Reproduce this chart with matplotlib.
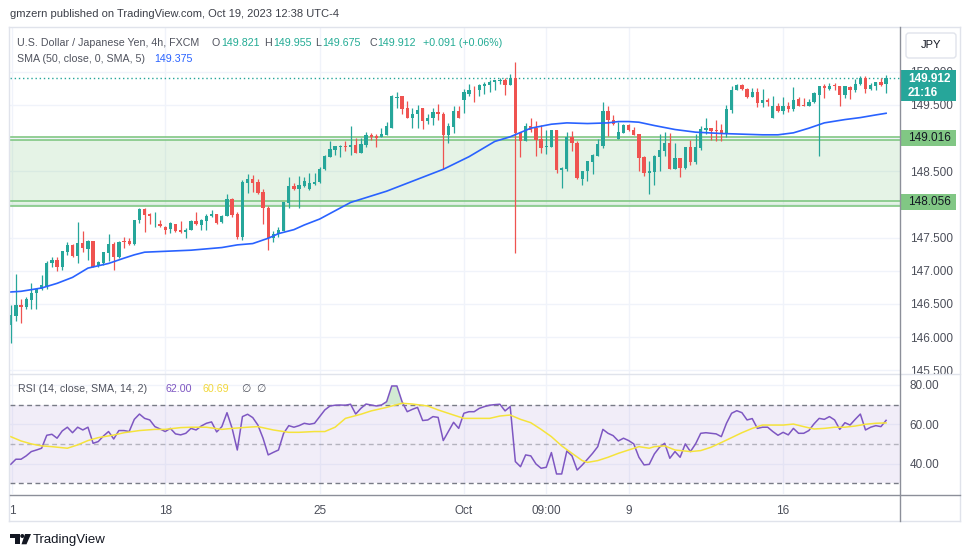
import numpy as np
import matplotlib
matplotlib.use('Agg')
import matplotlib.pyplot as plt
from matplotlib.patches import Rectangle, FancyBboxPatch, Polygon, Circle
from matplotlib.lines import Line2D
from matplotlib.transforms import Affine2D
from matplotlib.ticker import FormatStrFormatter

plt.rcParams['font.family'] = ['Liberation Sans', 'DejaVu Sans']

# USDJPY 4h candles
opens = [
    146.18, 146.32, 146.48, 146.45, 146.56, 146.67, 146.72, 146.76, 147.11, 147.16,
    147.06, 147.28, 147.39, 147.23, 147.42, 147.33, 147.45, 147.08, 147.11, 147.27,
    147.40, 147.21, 147.45, 147.45, 147.40, 147.77, 147.93, 147.86, 147.70, 147.71,
    147.66, 147.63, 147.70, 147.62, 147.58, 147.62, 147.75, 147.69, 147.75, 147.82,
    147.86, 147.73, 147.82, 148.08, 147.86, 147.51, 148.33, 148.39, 148.34, 148.19,
    147.94, 147.50, 147.55, 147.60, 148.02, 148.28, 148.23, 148.28, 148.24, 148.31,
    148.34, 148.54, 148.72, 148.82, 148.86, 148.88, 148.86, 148.89, 148.78, 148.90,
    149.05, 149.03, 149.01, 149.05, 149.16, 149.61, 149.63, 149.45, 149.31, 149.36,
    149.45, 149.26, 149.30, 149.39, 149.37, 149.05, 149.17, 149.41, 149.58, 149.67,
    149.73, 149.72, 149.79, 149.80, 149.84, 149.86, 149.88, 149.80, 149.90, 149.10,
    148.96, 149.18, 149.15, 148.99, 148.86, 148.87, 149.12, 148.52, 148.54, 149.01,
    148.93, 148.39, 148.50, 148.64, 148.73, 148.88, 149.41, 149.28, 148.99, 149.08,
    149.20, 149.13, 149.06, 148.71, 148.48, 148.49, 148.72, 148.81, 148.93, 148.53,
    148.70, 148.55, 148.86, 148.64, 148.85, 149.12, 149.16, 149.13, 149.12, 149.06,
    149.43, 149.73, 149.80, 149.74, 149.62, 149.70, 149.53, 149.57, 149.31, 149.49,
    149.41, 149.49, 149.44, 149.59, 149.50, 149.49, 149.54, 149.65, 149.79, 149.74,
    149.80, 149.78, 149.65, 149.77, 149.72, 149.82, 149.91, 149.74, 149.79, 149.84,
    149.821]
highs = [
    146.48, 146.95, 146.58, 146.60, 146.81, 146.73, 146.94, 147.14, 147.21, 147.21,
    147.30, 147.43, 147.40, 147.73, 147.60, 147.46, 147.45, 147.14, 147.29, 147.56,
    147.44, 147.45, 147.51, 147.49, 147.77, 147.94, 147.94, 147.87, 147.88, 147.77,
    147.68, 147.74, 147.71, 147.75, 147.65, 147.77, 147.89, 147.78, 147.86, 147.91,
    147.86, 147.84, 148.16, 148.09, 147.88, 148.37, 148.46, 148.44, 148.38, 148.24,
    147.98, 147.60, 147.66, 148.03, 148.42, 148.33, 148.43, 148.42, 148.47, 148.47,
    148.57, 148.75, 148.96, 148.88, 148.90, 148.95, 149.18, 149.00, 149.00, 149.10,
    149.08, 149.06, 149.15, 149.25, 149.65, 149.70, 149.63, 149.56, 149.45, 149.50,
    149.46, 149.36, 149.45, 149.51, 149.39, 149.23, 149.49, 149.48, 149.74, 149.82,
    149.79, 149.82, 149.84, 149.87, 149.88, 149.90, 149.90, 149.97, 150.15, 149.10,
    149.23, 149.30, 149.26, 149.20, 149.12, 149.12, 149.12, 148.56, 149.10, 149.11,
    148.95, 148.50, 148.66, 148.76, 148.99, 149.54, 149.49, 149.35, 149.25, 149.21,
    149.22, 149.17, 149.06, 148.73, 148.65, 148.75, 149.06, 149.09, 149.08, 148.93,
    148.70, 148.87, 148.97, 149.06, 149.18, 149.31, 149.16, 149.27, 149.21, 149.50,
    149.78, 149.82, 149.82, 149.75, 149.75, 149.75, 149.74, 149.60, 149.63, 149.53,
    149.62, 149.54, 149.77, 149.62, 149.60, 149.59, 149.69, 149.79, 149.82, 149.83,
    149.83, 149.79, 149.78, 149.78, 149.89, 149.94, 149.93, 149.83, 149.85, 149.90,
    149.955]
lows = [
    145.91, 146.24, 146.21, 146.42, 146.43, 146.43, 146.71, 146.73, 147.05, 146.99,
    147.01, 147.24, 147.21, 147.12, 147.29, 147.16, 147.05, 147.05, 147.09, 147.14,
    147.01, 147.19, 147.34, 147.39, 147.39, 147.72, 147.59, 147.71, 147.66, 147.66,
    147.56, 147.57, 147.59, 147.57, 147.50, 147.61, 147.69, 147.62, 147.62, 147.81,
    147.70, 147.72, 147.82, 147.81, 147.48, 147.47, 148.18, 148.19, 148.15, 147.70,
    147.32, 147.44, 147.51, 147.60, 147.94, 148.22, 147.95, 148.27, 148.22, 148.29,
    148.33, 148.52, 148.72, 148.75, 148.71, 148.81, 148.75, 148.78, 148.77, 148.86,
    148.97, 148.86, 149.01, 149.05, 149.15, 149.46, 149.37, 149.30, 149.16, 149.15,
    149.14, 149.22, 149.20, 149.27, 148.53, 148.93, 149.08, 149.30, 149.38, 149.63,
    149.55, 149.63, 149.66, 149.70, 149.73, 149.82, 149.65, 149.80, 147.27, 148.71,
    148.95, 149.10, 148.73, 148.78, 148.76, 148.86, 148.48, 148.25, 148.50, 148.80,
    148.38, 148.29, 148.36, 148.46, 148.73, 148.85, 149.03, 149.20, 148.99, 149.08,
    149.11, 149.05, 148.50, 148.43, 148.16, 148.30, 148.50, 148.73, 148.53, 148.53,
    148.41, 148.53, 148.60, 148.61, 148.82, 149.06, 148.97, 148.95, 148.95, 149.01,
    149.38, 149.72, 149.73, 149.60, 149.62, 149.47, 149.47, 149.48, 149.30, 149.40,
    149.36, 149.40, 149.41, 149.49, 149.48, 149.49, 149.53, 148.73, 149.60, 149.72,
    149.72, 149.48, 149.60, 149.59, 149.70, 149.80, 149.68, 149.72, 149.72, 149.78,
    149.675]
closes = [
    146.33, 146.48, 146.46, 146.57, 146.67, 146.72, 146.79, 147.12, 147.16, 147.06,
    147.30, 147.39, 147.23, 147.42, 147.34, 147.45, 147.06, 147.13, 147.28, 147.40,
    147.21, 147.44, 147.43, 147.40, 147.77, 147.93, 147.84, 147.82, 147.71, 147.67,
    147.62, 147.72, 147.60, 147.59, 147.62, 147.75, 147.70, 147.77, 147.83, 147.86,
    147.72, 147.83, 148.08, 147.84, 147.51, 148.34, 148.39, 148.33, 148.18, 147.94,
    147.50, 147.56, 147.62, 148.03, 148.28, 148.24, 148.29, 148.36, 148.33, 148.34,
    148.54, 148.73, 148.83, 148.88, 148.88, 148.87, 148.89, 148.78, 148.91, 149.05,
    149.01, 149.00, 149.06, 149.18, 149.63, 149.62, 149.44, 149.31, 149.36, 149.43,
    149.26, 149.31, 149.39, 149.36, 149.05, 149.18, 149.41, 149.30, 149.69, 149.73,
    149.72, 149.80, 149.82, 149.85, 149.88, 149.87, 149.80, 149.90, 149.08, 148.96,
    149.18, 149.13, 148.97, 148.85, 148.88, 149.12, 148.52, 148.55, 149.01, 148.92,
    148.40, 148.50, 148.65, 148.75, 148.91, 149.41, 149.27, 149.22, 149.09, 149.20,
    149.13, 149.05, 148.70, 148.48, 148.50, 148.73, 148.82, 148.93, 148.53, 148.70,
    148.55, 148.86, 148.64, 148.86, 149.14, 149.15, 149.11, 149.11, 149.06, 149.44,
    149.73, 149.80, 149.74, 149.62, 149.70, 149.53, 149.57, 149.54, 149.49, 149.41,
    149.49, 149.44, 149.58, 149.49, 149.49, 149.55, 149.68, 149.78, 149.75, 149.79,
    149.78, 149.65, 149.78, 149.72, 149.82, 149.90, 149.74, 149.80, 149.84, 149.80,
    149.912]

# SMA(50) line, read at some bars
sma_idx = [0, 2, 6, 9, 12, 15, 19, 22, 24, 26, 29, 35, 41, 44, 47, 50, 52, 55, 57, 60,
           66, 73, 79, 84, 89, 94, 97, 101, 105, 108, 112, 116, 118, 120, 122, 125, 129,
           133, 138, 142, 146, 149, 152, 155, 158, 162, 165, 168, 170]
sma_val = [146.68, 146.69, 146.74, 146.81, 146.90, 147.04, 147.11, 147.19, 147.24, 147.28,
           147.29, 147.31, 147.35, 147.39, 147.41, 147.49, 147.56, 147.62, 147.69, 147.78,
           148.03, 148.20, 148.38, 148.53, 148.72, 148.95, 149.02, 149.15, 149.21, 149.23,
           149.22, 149.23, 149.25, 149.25, 149.24, 149.19, 149.13, 149.09, 149.07, 149.06,
           149.05, 149.05, 149.08, 149.15, 149.23, 149.28, 149.31, 149.35, 149.375]

rsi = [
    39.6, 42.2, 42.2, 43.9, 46.1, 46.9, 47.8, 54.4, 54.9, 52.9,
    56.6, 58.5, 55.7, 58.5, 57.1, 58.5, 50.3, 51.2, 54.0, 56.3,
    52.5, 56.8, 56.8, 56.3, 62.5, 65.2, 63.0, 62.2, 58.8, 57.6,
    56.3, 57.9, 55.1, 54.6, 55.4, 57.9, 57.1, 59.1, 60.5, 61.2,
    56.1, 58.8, 65.9, 57.9, 46.9, 63.9, 65.1, 63.4, 59.6, 52.9,
    44.4, 45.7, 46.9, 55.4, 59.3, 58.5, 59.3, 60.5, 60.0, 60.5,
    63.9, 67.3, 69.3, 69.7, 69.8, 69.7, 70.2, 65.2, 68.1, 70.3,
    69.8, 69.3, 69.8, 71.5, 79.5, 79.5, 71.5, 66.4, 67.6, 68.6,
    61.9, 62.2, 63.9, 63.5, 51.7, 56.3, 61.0, 57.9, 65.6, 66.4,
    66.4, 68.1, 69.0, 69.7, 70.0, 70.2, 66.8, 69.0, 41.0, 38.4,
    44.4, 43.9, 39.8, 37.6, 38.1, 45.6, 34.7, 34.7, 46.4, 43.9,
    36.7, 39.3, 42.2, 45.2, 48.6, 57.4, 55.4, 54.2, 51.5, 52.9,
    51.7, 50.0, 43.2, 39.3, 39.6, 44.9, 48.3, 50.3, 42.7, 46.1,
    43.2, 50.0, 46.1, 50.0, 55.4, 55.7, 55.4, 55.1, 53.7, 60.5,
    65.6, 66.9, 65.9, 62.2, 62.9, 57.9, 58.5, 58.5, 56.3, 54.4,
    55.9, 54.6, 57.9, 55.4, 55.4, 56.8, 60.2, 63.0, 62.5, 63.9,
    62.2, 57.4, 60.8, 59.6, 62.5, 65.2, 57.1, 58.5, 59.3, 58.8,
    62.0]

# RSI-based SMA(14), read at some bars
rsi_ma_idx = [0, 2, 4, 6, 8, 11, 13, 15, 17, 20, 22, 25, 28, 30, 33, 35, 38, 41, 43, 46,
              48, 51, 54, 56, 59, 61, 63, 65, 68, 70, 73, 76, 78, 81, 83, 86, 88, 91, 93,
              95, 97, 99, 101, 103, 105, 107, 109, 111, 112, 114, 116, 118, 120, 122,
              124, 125, 127, 129, 132, 134, 136, 138, 140, 142, 144, 146, 148, 150, 152,
              154, 156, 158, 160, 162, 164, 166, 168, 170]
rsi_ma_val = [53.7, 51.5, 50.0, 49.0, 48.6, 47.8, 49.5, 51.7, 53.2, 54.5, 55.7, 56.8, 57.4,
              57.4, 58.3, 58.5, 58.5, 57.4, 57.9, 58.5, 58.8, 57.1, 55.9, 55.9, 56.3, 56.3,
              58.5, 63.0, 65.1, 66.8, 68.6, 70.7, 70.3, 69.3, 67.3, 64.7, 63.0, 63.0, 63.0,
              64.2, 64.7, 62.5, 60.8, 57.4, 53.7, 49.0, 45.2, 41.5, 40.6, 41.5, 43.2, 45.2,
              46.9, 48.6, 47.8, 48.6, 49.0, 46.9, 46.1, 46.6, 48.3, 50.7, 53.2, 55.7, 57.9,
              59.6, 59.6, 59.6, 60.1, 58.8, 57.6, 57.9, 58.5, 58.5, 59.1, 60.0, 60.5, 60.69]

tick_pos = [0.25, 30, 60, 88, 104, 120, 150]
tick_labels = ['1', '18', '25', 'Oct', '09:00', '9', '16']

zone_low, zone_high = 147.972, 148.968
level_top, level_bottom = 149.016, 148.056
last_price = 149.912

green, red = '#26a69a', '#ef5350'
axis_col = '#4c4f5a'
W, H = 970, 557

fig = plt.figure(figsize=(W / 100, H / 100), dpi=100)
fig.patch.set_facecolor('white')
# pixel coordinates, origin top-left
px = Affine2D().scale(1 / W, -1 / H).translate(0, 1) + fig.transFigure


def box(x0, y0, x1, y1):
    return [x0 / W, 1 - y1 / H, (x1 - x0) / W, (y1 - y0) / H]


ax = fig.add_axes(box(10, 27, 900, 373))
ax2 = fig.add_axes(box(10, 373, 900, 494), sharex=ax)

o, h, l, c = map(np.array, (opens, highs, lows, closes))
x = np.arange(len(c))
col = np.where(c >= o, green, red)

# main pane
ax.axhspan(zone_low, zone_high, color='#81c784', alpha=0.2, lw=0, zorder=1)
for lvl in (zone_high, zone_low, level_top, level_bottom):
    ax.axhline(lvl, color='#81c784', lw=1.2, zorder=1.5)
ax.axhline(last_price, color=green, lw=1, ls=(0, (1, 2)), zorder=1.5)
ax.vlines(x, l, h, colors=col, lw=0.9, zorder=3)
ax.bar(x, np.maximum(np.abs(c - o), 0.012), bottom=np.minimum(o, c), width=0.64,
       color=col, lw=0, zorder=4)
ax.plot(sma_idx, sma_val, color='#2962ff', lw=1.2, zorder=5)

ax.set_xlim(-0.14, 172.7)
ax.set_ylim(145.458, 150.676)
price_ticks = np.arange(145.5, 150.01, 0.5)
ax.set_yticks(price_ticks)
# 149.000 and 148.000 sit under the level tags, as in the original
ax.set_yticklabels(['' if round(p, 1) in (148.0, 149.0) else '%.3f' % p
                    for p in price_ticks])
ax.yaxis.tick_right()
ax.tick_params(axis='y', length=0, pad=7, labelsize=8.5, labelcolor=axis_col)
ax.tick_params(axis='x', length=0, labelbottom=False)
ax.grid(color='#f0f3fa', lw=1)
ax.set_axisbelow(True)
for s in ax.spines.values():
    s.set_visible(False)

# RSI pane
rsi_a = np.array(rsi)
ax2.axhspan(30, 70, color='#7e57c2', alpha=0.1, lw=0)
ax2.axhline(70, color='#787b86', lw=1, ls=(0, (3.5, 2.5)))
ax2.axhline(30, color='#787b86', lw=1, ls=(0, (3.5, 2.5)))
ax2.axhline(50, color='#787b86', alpha=0.5, lw=1, ls=(0, (3.5, 2.5)))
ax2.fill_between(x, rsi_a, 70, where=rsi_a > 70, interpolate=True, color='#4caf50',
                 alpha=0.25, lw=0)
ax2.plot(x, rsi_a, color='#7e57c2', lw=1.1)
ax2.plot(rsi_ma_idx, rsi_ma_val, color='#f5e33b', lw=1.1)
ax2.set_ylim(24.5, 86.1)
ax2.set_yticks([40, 60, 80])
ax2.yaxis.tick_right()
ax2.yaxis.set_major_formatter(FormatStrFormatter('%.2f'))
ax2.set_xticks(tick_pos, tick_labels)
ax2.tick_params(axis='x', length=0, pad=8, labelsize=8.5, labelcolor=axis_col)
ax2.tick_params(axis='y', length=0, pad=7, labelsize=8.5, labelcolor=axis_col)
ax2.grid(color='#f0f3fa', lw=1)
ax2.set_axisbelow(True)
for s in ax2.spines.values():
    s.set_visible(False)

# frame and separators
for xs, ys, lc in [((9.5, 960.5), (27, 27), '#e0e3eb'),
                   ((9.5, 9.5), (27, 521), '#e0e3eb'),
                   ((960.5, 960.5), (27, 521), '#e0e3eb'),
                   ((9.5, 960.5), (521, 521), '#e0e3eb'),
                   ((10, 960), (373.5, 373.5), '#e0e3eb'),
                   ((900.5, 900.5), (27, 521), '#8c8f99'),
                   ((10, 960), (494.5, 494.5), '#8c8f99')]:
    fig.add_artist(Line2D(xs, ys, transform=px, color=lc, lw=1))

fig.add_artist(Rectangle((901, 374), 58, 5, transform=px, color='white', lw=0))

# price tags on the axis
fig.add_artist(Rectangle((901, 70), 55, 31, transform=px, color=green, lw=0))
fig.text(908, 78.5, '149.912', transform=px, color='white', fontsize=8.5,
         fontweight='bold', va='center')
fig.text(908, 93, '21:16', transform=px, color='white', fontsize=8.5,
         fontweight='bold', va='center')
for yb, txt in [(129.5, '149.016'), (193.5, '148.056')]:
    fig.add_artist(Rectangle((901, yb), 55, 16.5, transform=px, color='#81c784', lw=0))
    fig.text(908, yb + 8.3, txt, transform=px, color='#131722', fontsize=8.5, va='center')

fig.add_artist(FancyBboxPatch((906, 33), 50, 25, boxstyle='round,pad=0,rounding_size=3',
                              transform=px, fc='white', ec='#e0e3eb', lw=1))
fig.text(931, 45.5, 'JPY', transform=px, color='#131722', fontsize=8, ha='center',
         va='center')

# legends
fig.text(10, 14, 'gmzern published on TradingView.com, Oct 19, 2023 12:38 UTC-4',
         transform=px, color='#3c3f48', fontsize=8, va='center')
teal = '#22ab94'
for xp, txt, tc in [(17, 'U.S. Dollar / Japanese Yen, 4h, FXCM', '#50535e'),
                    (212, 'O', '#50535e'), (221, '149.821', teal),
                    (264, 'H', '#50535e'), (273, '149.955', teal),
                    (315, 'L', '#50535e'), (322, '149.675', teal),
                    (370, 'C', '#50535e'), (377, '149.912', teal),
                    (423, '+0.091 (+0.06%)', teal)]:
    fig.text(xp, 42.5, txt, transform=px, color=tc, fontsize=7.7, va='center')
fig.text(17, 59.5, 'SMA (50, close, 0, SMA, 5)', transform=px, color='#50535e',
         fontsize=7.7, va='center')
fig.text(154, 59.5, '149.375', transform=px, color='#2962ff', fontsize=7.7, va='center')

for xp, txt, tc in [(18, 'RSI (14, close, SMA, 14, 2)', '#50535e'),
                    (166, '62.00', '#7e57c2'), (203, '60.69', '#f2d83a'),
                    (241, '\u2205', '#50535e'), (256, '\u2205', '#50535e')]:
    fig.text(xp, 389, txt, transform=px, color=tc, fontsize=7.7, va='center')

# TradingView mark
fig.add_artist(Polygon([(10, 534), (20, 534), (20, 544.3), (15.5, 544.3), (15.5, 538),
                        (10, 538)], closed=True, transform=px, color='#131722', lw=0))
fig.add_artist(Circle((22.3, 536), 2, transform=px, color='#131722', lw=0))
fig.add_artist(Polygon([(25, 534), (31, 534), (26.5, 544.3), (21.5, 544.3)], closed=True,
                       transform=px, color='#131722', lw=0))
fig.text(33, 540, 'TradingView', transform=px, color='#131722', fontsize=9.5, va='center')

fig.savefig('out.png', dpi=100, facecolor='white')
